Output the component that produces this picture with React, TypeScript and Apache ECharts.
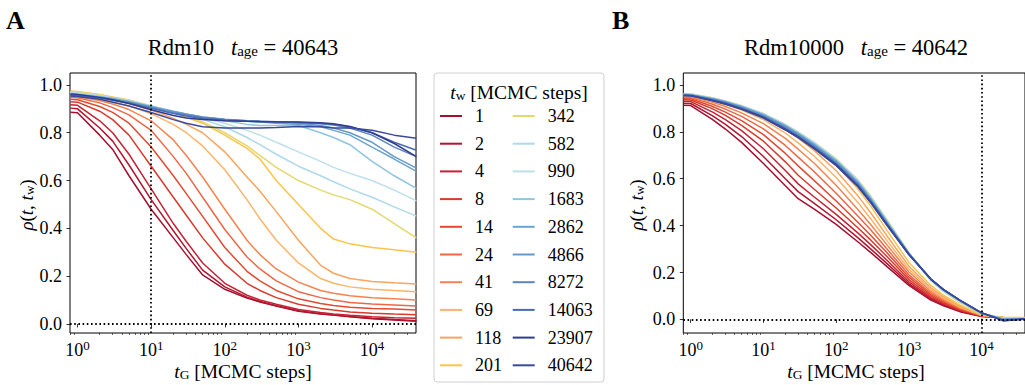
import React, { useEffect, useRef } from "react";
import * as echarts from "echarts";

const FONT = "Liberation Serif";
const FONT_UP = "Times New Roman";

// shared time grid t_G [MCMC steps]
const T = [0.8, 1, 2, 3, 5, 10, 20, 30, 50, 100, 200, 300, 500, 1000, 2000, 3000, 5000, 10000, 20000, 40000];

const TW = ["1", "2", "4", "8", "14", "24", "41", "69", "118", "201", "342", "582", "990", "1683", "2862", "4866", "8272", "14063", "23907", "40642"];

const COLORS = ["#a50f2f", "#b3142e", "#c62234", "#d93a2c", "#e34a33", "#ef6646", "#f6834e", "#fdb468", "#fca45d", "#fec34a", "#e3d96c", "#aed9ea", "#bcdfec", "#91c4de", "#6ba4cf", "#6898ca", "#5985c0", "#4a6bb2", "#303d90", "#3a4a9c"];

// Panel A : Rdm10
const a1 = [0.886, 0.884, 0.79, 0.73, 0.62, 0.48, 0.36, 0.29, 0.205, 0.145, 0.108, 0.092, 0.075, 0.053, 0.042, 0.037, 0.03, 0.022, 0.016, 0.011];
const a2 = [0.903, 0.9, 0.82, 0.765, 0.665, 0.52, 0.39, 0.315, 0.225, 0.155, 0.112, 0.094, 0.076, 0.055, 0.043, 0.037, 0.031, 0.024, 0.018, 0.013];
const a4 = [0.917, 0.915, 0.85, 0.8, 0.71, 0.565, 0.42, 0.345, 0.255, 0.17, 0.12, 0.1, 0.082, 0.06, 0.048, 0.042, 0.036, 0.03, 0.026, 0.024];
const a8 = [0.93, 0.928, 0.89, 0.855, 0.79, 0.66, 0.53, 0.455, 0.36, 0.25, 0.17, 0.14, 0.11, 0.082, 0.065, 0.058, 0.05, 0.045, 0.041, 0.038];
const a14 = [0.94, 0.938, 0.91, 0.885, 0.84, 0.74, 0.62, 0.545, 0.45, 0.32, 0.22, 0.18, 0.14, 0.105, 0.085, 0.077, 0.07, 0.065, 0.062, 0.058];
const a24 = [0.948, 0.946, 0.925, 0.905, 0.875, 0.81, 0.7, 0.63, 0.53, 0.395, 0.28, 0.23, 0.18, 0.135, 0.11, 0.1, 0.09, 0.083, 0.079, 0.075];
const a41 = [0.953, 0.951, 0.935, 0.92, 0.897, 0.85, 0.77, 0.705, 0.615, 0.48, 0.35, 0.29, 0.23, 0.175, 0.14, 0.128, 0.118, 0.11, 0.105, 0.1];
const a69 = [0.957, 0.955, 0.942, 0.93, 0.912, 0.88, 0.835, 0.8, 0.745, 0.645, 0.52, 0.44, 0.35, 0.255, 0.19, 0.17, 0.155, 0.145, 0.14, 0.135];
const a118 = [0.96, 0.958, 0.947, 0.937, 0.922, 0.895, 0.86, 0.835, 0.8, 0.72, 0.615, 0.555, 0.47, 0.35, 0.245, 0.212, 0.19, 0.178, 0.172, 0.167];
const a201 = [0.975, 0.973, 0.96, 0.95, 0.937, 0.912, 0.885, 0.865, 0.84, 0.79, 0.735, 0.69, 0.6, 0.5, 0.4, 0.355, 0.335, 0.32, 0.31, 0.3];
const a342 = [0.972, 0.97, 0.958, 0.948, 0.935, 0.912, 0.885, 0.868, 0.845, 0.8, 0.745, 0.705, 0.655, 0.6, 0.56, 0.54, 0.52, 0.48, 0.42, 0.36];
const a582 = [0.968, 0.966, 0.955, 0.946, 0.934, 0.912, 0.888, 0.874, 0.856, 0.825, 0.78, 0.75, 0.71, 0.66, 0.62, 0.595, 0.565, 0.53, 0.49, 0.451];
const a990 = [0.966, 0.964, 0.954, 0.945, 0.933, 0.912, 0.89, 0.877, 0.862, 0.84, 0.81, 0.79, 0.76, 0.72, 0.68, 0.655, 0.63, 0.6, 0.56, 0.515];
const a1683 = [0.964, 0.962, 0.952, 0.944, 0.932, 0.911, 0.89, 0.878, 0.864, 0.85, 0.835, 0.83, 0.83, 0.83, 0.8, 0.78, 0.75, 0.68, 0.62, 0.567];
const a2862 = [0.962, 0.96, 0.95, 0.942, 0.93, 0.909, 0.889, 0.878, 0.866, 0.855, 0.848, 0.845, 0.84, 0.835, 0.825, 0.81, 0.79, 0.74, 0.69, 0.638];
const a4866 = [0.96, 0.958, 0.948, 0.94, 0.928, 0.907, 0.887, 0.877, 0.866, 0.856, 0.85, 0.848, 0.845, 0.84, 0.83, 0.82, 0.8, 0.76, 0.7, 0.652];
const a8272 = [0.958, 0.956, 0.946, 0.938, 0.926, 0.905, 0.884, 0.874, 0.864, 0.855, 0.85, 0.848, 0.846, 0.843, 0.838, 0.832, 0.82, 0.79, 0.74, 0.7];
const a14063 = [0.957, 0.955, 0.945, 0.936, 0.923, 0.902, 0.88, 0.87, 0.86, 0.852, 0.848, 0.846, 0.845, 0.843, 0.84, 0.835, 0.825, 0.8, 0.76, 0.727];
const a23907 = [0.962, 0.96, 0.948, 0.938, 0.922, 0.896, 0.872, 0.862, 0.855, 0.85, 0.848, 0.847, 0.846, 0.845, 0.842, 0.838, 0.826, 0.8, 0.755, 0.7];
const a40642 = [0.954, 0.952, 0.94, 0.928, 0.912, 0.885, 0.855, 0.84, 0.825, 0.82, 0.82, 0.82, 0.822, 0.826, 0.825, 0.82, 0.82, 0.81, 0.79, 0.777];

// Panel B : Rdm10000
const b1 = [0.913, 0.912, 0.852, 0.812, 0.755, 0.665, 0.57, 0.515, 0.47, 0.405, 0.33, 0.285, 0.225, 0.145, 0.082, 0.058, 0.033, 0.012, 0.006, 0.005];
const b2 = [0.922, 0.921, 0.868, 0.832, 0.78, 0.695, 0.6, 0.545, 0.495, 0.425, 0.348, 0.3, 0.238, 0.152, 0.088, 0.062, 0.036, 0.013, 0.006, 0.005];
const b4 = [0.93, 0.929, 0.884, 0.852, 0.805, 0.728, 0.635, 0.578, 0.522, 0.448, 0.368, 0.318, 0.252, 0.16, 0.093, 0.066, 0.038, 0.014, 0.007, 0.006];
const b8 = [0.937, 0.936, 0.898, 0.87, 0.828, 0.76, 0.672, 0.615, 0.555, 0.475, 0.39, 0.338, 0.268, 0.17, 0.099, 0.07, 0.041, 0.014, 0.007, 0.006];
const b14 = [0.942, 0.941, 0.908, 0.884, 0.848, 0.788, 0.708, 0.655, 0.592, 0.505, 0.413, 0.358, 0.284, 0.18, 0.106, 0.075, 0.044, 0.015, 0.007, 0.006];
const b24 = [0.947, 0.946, 0.918, 0.897, 0.866, 0.813, 0.742, 0.692, 0.63, 0.538, 0.44, 0.381, 0.3, 0.19, 0.112, 0.08, 0.047, 0.016, 0.008, 0.006];
const b41 = [0.951, 0.95, 0.926, 0.908, 0.881, 0.835, 0.772, 0.726, 0.666, 0.572, 0.468, 0.404, 0.318, 0.202, 0.12, 0.085, 0.05, 0.017, 0.008, 0.007];
const b69 = [0.954, 0.953, 0.932, 0.917, 0.893, 0.852, 0.795, 0.753, 0.696, 0.605, 0.498, 0.428, 0.336, 0.214, 0.127, 0.09, 0.053, 0.018, 0.008, 0.007];
const b118 = [0.957, 0.956, 0.937, 0.923, 0.901, 0.864, 0.811, 0.773, 0.72, 0.634, 0.526, 0.454, 0.356, 0.227, 0.135, 0.096, 0.057, 0.018, 0.008, 0.007];
const b201 = [0.959, 0.958, 0.94, 0.927, 0.906, 0.871, 0.823, 0.789, 0.74, 0.659, 0.555, 0.482, 0.38, 0.243, 0.145, 0.103, 0.062, 0.019, 0.008, 0.008];
const b342 = [0.963, 0.962, 0.945, 0.932, 0.912, 0.878, 0.832, 0.8, 0.755, 0.685, 0.595, 0.525, 0.425, 0.285, 0.165, 0.118, 0.072, 0.022, 0.004, 0.006];
const b582 = [0.962, 0.961, 0.944, 0.931, 0.911, 0.877, 0.831, 0.799, 0.754, 0.683, 0.592, 0.522, 0.422, 0.283, 0.166, 0.12, 0.075, 0.024, 0.004, 0.006];
const b990 = [0.961, 0.96, 0.943, 0.93, 0.91, 0.876, 0.83, 0.797, 0.752, 0.681, 0.59, 0.52, 0.42, 0.282, 0.168, 0.122, 0.077, 0.025, 0.003, 0.005];
const b1683 = [0.96, 0.959, 0.942, 0.929, 0.909, 0.875, 0.828, 0.795, 0.75, 0.679, 0.588, 0.518, 0.418, 0.282, 0.17, 0.124, 0.079, 0.026, 0.002, 0.004];
const b2862 = [0.959, 0.958, 0.941, 0.928, 0.907, 0.872, 0.825, 0.792, 0.746, 0.675, 0.584, 0.514, 0.415, 0.281, 0.171, 0.125, 0.08, 0.026, 0.001, 0.004];
const b4866 = [0.958, 0.957, 0.94, 0.926, 0.905, 0.87, 0.822, 0.789, 0.742, 0.671, 0.58, 0.51, 0.412, 0.28, 0.171, 0.126, 0.081, 0.027, 0.0, 0.003];
const b8272 = [0.957, 0.956, 0.938, 0.924, 0.903, 0.867, 0.818, 0.785, 0.738, 0.667, 0.576, 0.506, 0.409, 0.279, 0.172, 0.126, 0.081, 0.027, -0.002, 0.003];
const b14063 = [0.956, 0.955, 0.936, 0.922, 0.9, 0.864, 0.814, 0.781, 0.734, 0.663, 0.572, 0.503, 0.406, 0.278, 0.172, 0.127, 0.082, 0.028, -0.004, 0.002];
const b23907 = [0.955, 0.954, 0.934, 0.92, 0.898, 0.861, 0.81, 0.777, 0.73, 0.659, 0.568, 0.499, 0.403, 0.277, 0.172, 0.127, 0.082, 0.028, -0.006, 0.001];
const b40642 = [0.955, 0.954, 0.933, 0.918, 0.896, 0.859, 0.808, 0.775, 0.727, 0.656, 0.565, 0.496, 0.4, 0.276, 0.172, 0.127, 0.082, 0.028, -0.006, 0.002];

const PANEL_A = [a1, a2, a4, a8, a14, a24, a41, a69, a118, a201, a342, a582, a990, a1683, a2862, a4866, a8272, a14063, a23907, a40642];
const PANEL_B = [b1, b2, b4, b8, b14, b24, b41, b69, b118, b201, b342, b582, b990, b1683, b2862, b4866, b8272, b14063, b23907, b40642];

const X_MAJOR = [1, 10, 100, 1000, 10000];
const Y_TICKS = [0, 0.2, 0.4, 0.6, 0.8, 1.0];

const X_MIN = 0.79;
const X_MAX = 39500;

function minorTicks(): number[] {
  const out: number[] = [];
  for (let k = -1; k <= 4; k++) {
    for (let m = 2; m <= 9; m++) {
      const v = m * Math.pow(10, k);
      if (v > X_MIN && v < X_MAX) out.push(v);
    }
  }
  return out;
}

// component label style (colour via `color`), upright face
const lab = (size: number, extra: any = {}) => ({ fontSize: size, fontFamily: FONT_UP, color: "#000", ...extra });
// graphic text style (colour via `fill`)
const gfx = (size: number, extra: any = {}) => ({ fontSize: size, fontFamily: FONT, fill: "#000", ...extra });
const gup = (size: number, extra: any = {}) => ({ fontSize: size, fontFamily: FONT_UP, fill: "#000", ...extra });

export default function App() {
  const ref = useRef<HTMLDivElement>(null);

  useEffect(() => {
    if (!ref.current) return;
    const chart = echarts.init(ref.current, undefined, { renderer: "svg" });
    const minor = minorTicks();

    const grids = [
      { left: 70, top: 73, width: 346, height: 260 },
      { left: 683.3, top: 73, width: 346, height: 260 },
    ];
    const yRanges = [
      [-0.038, 1.05],
      [-0.058, 1.051],
    ];

    const xAxes: any[] = [];
    const yAxes: any[] = [];
    grids.forEach((_, gi) => {
      xAxes.push({
        type: "log",
        logBase: 10,
        gridIndex: gi,
        min: X_MIN,
        max: X_MAX,
        position: "bottom",
        axisLine: { show: false },
        splitLine: { show: false },
        axisTick: { show: true, length: 3.5, customValues: X_MAJOR, lineStyle: { color: "#000", width: 0.8 } },
        axisLabel: {
          customValues: X_MAJOR,
          margin: 6,
          ...lab(18),
          formatter: (v: number) => "{b|10}{s|" + Math.round(Math.log10(v)) + "}",
          rich: {
            b: lab(18, { lineHeight: 20, verticalAlign: "bottom" }),
            s: lab(13, { fontFamily: FONT, lineHeight: 12, verticalAlign: "top" }),
          },
        },
      });
      xAxes.push({
        type: "log",
        logBase: 10,
        gridIndex: gi,
        min: X_MIN,
        max: X_MAX,
        position: "bottom",
        axisLine: { show: false },
        splitLine: { show: false },
        axisLabel: { show: false },
        axisTick: { show: true, length: 2, customValues: minor, lineStyle: { color: "#000", width: 0.6 } },
      });
      yAxes.push({
        type: "value",
        gridIndex: gi,
        min: yRanges[gi][0],
        max: yRanges[gi][1],
        axisLine: { show: false },
        splitLine: { show: false },
        axisTick: { show: true, length: 3.5, customValues: Y_TICKS, lineStyle: { color: "#000", width: 0.8 } },
        axisLabel: {
          customValues: Y_TICKS,
          margin: 8,
          formatter: (v: number) => v.toFixed(1),
          ...lab(18),
        },
      });
    });

    const series: any[] = [];
    const panels = [PANEL_A, PANEL_B];
    panels.forEach((panel, gi) => {
      panel.forEach((vals, i) => {
        series.push({
          type: "line",
          name: TW[i],
          xAxisIndex: gi * 2,
          yAxisIndex: gi,
          showSymbol: false,
          symbol: "none",
          color: COLORS[i],
          lineStyle: { width: 1.5, color: COLORS[i] },
          data: T.map((t, j) => [t, vals[j]]),
          z: 2,
        });
      });
      series.push({
        type: "line",
        xAxisIndex: gi * 2,
        yAxisIndex: gi,
        data: [],
        z: 5,
        markLine: {
          silent: true,
          symbol: "none",
          label: { show: false },
          lineStyle: { color: "#000", type: [1.6, 2.6], width: 1.8, opacity: 1 },
          data: [{ xAxis: gi === 0 ? 10 : 10000 }, { yAxis: 0 }],
        },
      });
    });

    const legendBase = {
      orient: "vertical",
      top: 107,
      padding: 0,
      itemGap: 9.7,
      itemWidth: 22,
      itemHeight: 2,
      icon: "rect",
      selectedMode: false,
      textStyle: { ...lab(18), lineHeight: 18, padding: [0, 0, 0, 8] },
    };

    const option: any = {
      animation: false,
      grid: grids.map((g) => ({ ...g, show: true, borderColor: "#000", borderWidth: 1, backgroundColor: "transparent" })),
      xAxis: xAxes,
      yAxis: yAxes,
      legend: [
        { ...legendBase, left: 440, data: TW.slice(0, 10) },
        { ...legendBase, left: 512.7, data: TW.slice(10) },
      ],
      series,
      graphic: [
        {
          type: "rect",
          shape: { x: 434, y: 73, width: 170, height: 309, r: 3 },
          style: { fill: "#fff", stroke: "#d0d0d0", lineWidth: 1 },
          z: -1,
        },
        {
          type: "text",
          x: 519,
          y: 92,
          style: {
            text: "{i|t}{s|w}{n| [MCMC steps]}",
            align: "center",
            verticalAlign: "middle",
            ...gup(19.5),
            rich: { i: gfx(19.5, { fontStyle: "italic" }), s: gfx(13.5, { lineHeight: 6, verticalAlign: "bottom" }), n: gup(19.5) },
          },
        },
        { type: "text", x: 6, y: 7, style: { text: "A", ...gfx(26, { fontWeight: "bold" }) } },
        { type: "text", x: 612, y: 7, style: { text: "B", ...gfx(26, { fontWeight: "bold" }) } },
        ...[
          { x: 243, name: "Rdm10", age: "40643" },
          { x: 856, name: "Rdm10000", age: "40642" },
        ].map((d) => ({
          type: "text",
          x: d.x,
          y: 47,
          style: {
            text: "{n|" + d.name + "   }{i|t}{s|age}{n| = " + d.age + "}",
            align: "center",
            verticalAlign: "middle",
            ...gup(22.5),
            rich: { n: gup(22.5), i: gfx(22.5, { fontStyle: "italic" }), s: gfx(15, { lineHeight: 6, verticalAlign: "bottom" }) },
          },
        })),
        ...[243, 856].map((x) => ({
          type: "text",
          x,
          y: 371,
          style: {
            text: "{i|t}{s|G}{n| [MCMC steps]}",
            align: "center",
            verticalAlign: "middle",
            ...gup(19.5),
            rich: { i: gfx(19.5, { fontStyle: "italic" }), s: gfx(13.5, { lineHeight: 6, verticalAlign: "bottom" }), n: gup(19.5) },
          },
        })),
        ...[26, 636].map((x) => ({
          type: "text",
          x,
          y: 205,
          rotation: Math.PI / 2,
          style: {
            text: "{i|ρ}{n|(}{i|t}{n|, }{i|t}{s|w}{n|)}",
            align: "center",
            verticalAlign: "middle",
            ...gup(19),
            rich: { i: gfx(19, { fontStyle: "italic" }), s: gfx(13, { lineHeight: 6, verticalAlign: "bottom" }), n: gup(19) },
          },
        })),
      ],
    };

    chart.setOption(option);
    return () => chart.dispose();
  }, []);

  return <div ref={ref} style={{ position: "absolute", left: 0, top: 0, width: 1025, height: 385 }} />;
}
